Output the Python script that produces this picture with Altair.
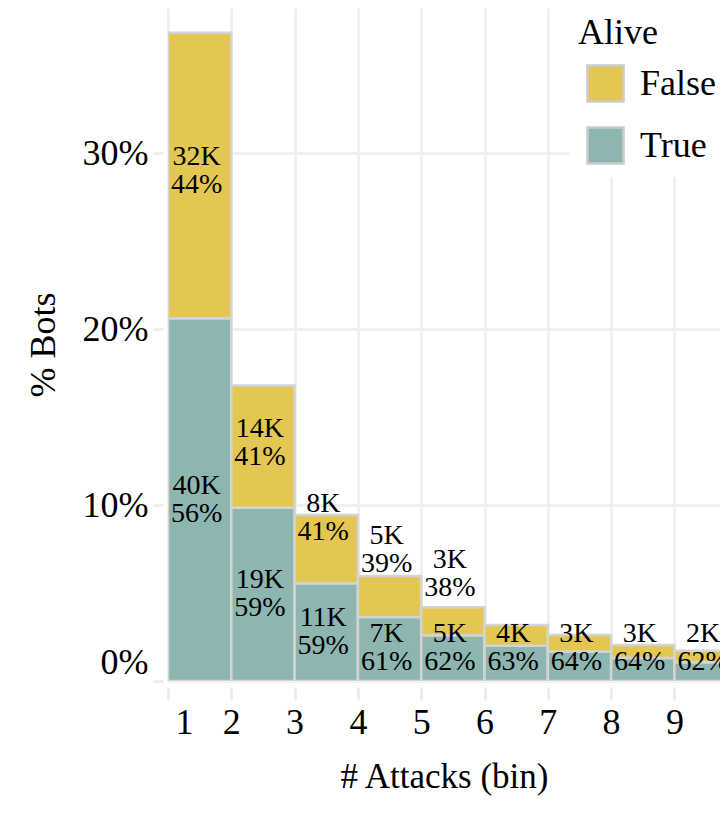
import altair as alt
import pandas as pd

# ---- data ----
bins = [1, 2, 3, 4, 5, 6, 7, 8, 9]
alive_true = [40400, 19300, 10900, 7140, 5100, 3930, 3280, 2570, 2090]
alive_false = [31800, 13600, 7600, 4560, 3100, 2300, 1840, 1450, 1280]
total_bots = 196000
# anchor (share of bots) of the "False" labels, as placed in the reference
false_label_at = [0.290, 0.135, 0.0926, 0.0744, 0.0608, None, None, None, None]
true_label_floor = 0.019

status = ["False", "True"]
colors = ["#E3C752", "#8DB6B1"]
y_ticks = [0, 0.1, 0.2, 0.3]
x_ticks = bins
x_domain = [1, 9.72]
y_domain = [0, 0.3824]

FONT = "Liberation Serif"
GRID = "#f0f0f0"

seg_rows = []
lab_rows = []
for i, b in enumerate(bins):
    t = alive_true[i]
    f = alive_false[i]
    tot = t + f
    t_top = t / total_bots
    all_top = tot / total_bots
    seg_rows.append(dict(x0=b, x1=b + 1, y0=0, y1=t_top, alive="True"))
    seg_rows.append(dict(x0=b, x1=b + 1, y0=t_top, y1=all_top, alive="False"))
    lab_rows.append(dict(xc=b + 0.5, ly=max(t_top / 2, true_label_floor),
                         label=f"{round(t / 1000)}K\n{round(100 * t / tot)}%"))
    if false_label_at[i] is not None:
        lab_rows.append(dict(xc=b + 0.5, ly=false_label_at[i],
                             label=f"{round(f / 1000)}K\n{round(100 * f / tot)}%"))

seg = pd.DataFrame(seg_rows)
lab = pd.DataFrame(lab_rows)

x_axis = alt.Axis(values=x_ticks, format="d", grid=True, gridColor=GRID, gridWidth=3,
                  domain=False, tickColor="#ececec", tickWidth=3, tickSize=13, offset=6,
                  labelFontSize=36, labelPadding=5, labelFlush=True, labelFlushOffset=-7,
                  titleFontSize=35, titlePadding=19)
y_axis = alt.Axis(values=y_ticks, format=".0%", grid=True, gridColor=GRID, gridWidth=3,
                  domain=False, tickColor="#ececec", tickWidth=3, tickSize=10, offset=5,
                  labelFontSize=36, labelPadding=5, labelFlush=True,
                  titleFontSize=36, titlePadding=20)

bars = alt.Chart(seg).mark_rect(stroke="#d4d4d4", strokeWidth=2.5, clip=True).encode(
    x=alt.X("x0:Q", scale=alt.Scale(domain=x_domain, nice=False, zero=False),
            axis=x_axis, title="# Attacks (bin)"),
    x2="x1:Q",
    y=alt.Y("y0:Q", scale=alt.Scale(domain=y_domain, nice=False), axis=y_axis,
            title="% Bots"),
    y2="y1:Q",
    color=alt.Color("alive:N", scale=alt.Scale(domain=status, range=colors),
                    legend=alt.Legend(title="Alive", orient="none", legendX=402, legendY=0,
                                      fillColor="white", padding=8,
                                      titleFontSize=36, titleFontWeight="normal",
                                      titleColor="black", titlePadding=12,
                                      labelFontSize=36, labelColor="black", labelOffset=15,
                                      symbolType="square", symbolSize=1300,
                                      symbolStrokeColor="#cccccc", symbolStrokeWidth=2.5,
                                      symbolOpacity=1, symbolOffset=8, rowPadding=15)),
)

text = alt.Chart(lab).mark_text(font=FONT, fontSize=28, lineHeight=28, lineBreak="\n",
                                align="center", baseline="middle", dy=-14, dx=-3,
                                color="black").encode(
    x=alt.X("xc:Q"),
    y=alt.Y("ly:Q"),
    text="label:N",
)

chart = alt.layer(bars, text).properties(
    width=552, height=673,
    autosize=alt.AutoSizeParams(type="none"),
    padding={"left": 160, "top": 0, "right": 0, "bottom": 120},
).configure(font=FONT).configure_view(stroke=None).configure_axis(
    labelFont=FONT, titleFont=FONT, labelColor="black", titleColor="black",
    titleFontWeight="normal",
).configure_legend(labelFont=FONT, titleFont=FONT)

chart.save("out.html", embed_options={"renderer": "svg", "actions": False})
